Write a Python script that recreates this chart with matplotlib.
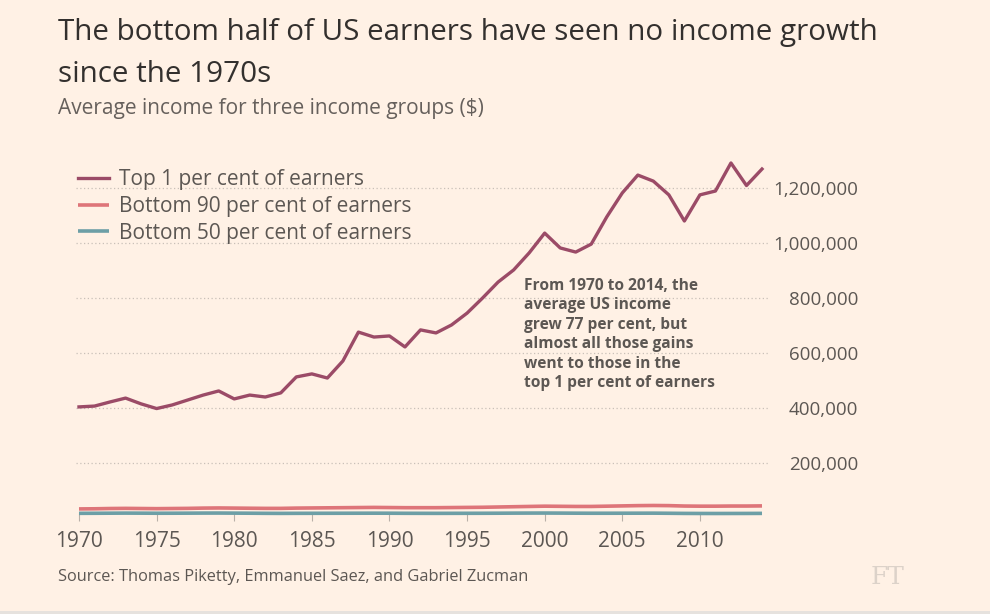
import matplotlib.pyplot as plt
from matplotlib.patches import Rectangle

years = list(range(1970, 2015))

top1 = [404000, 407000, 422000, 436000, 415000, 398000, 411000, 429000, 447000,
        462000, 433000, 447000, 440000, 455000, 513000, 524000, 509000, 571000,
        676000, 658000, 662000, 622000, 684000, 673000, 702000, 745000, 800000,
        858000, 902000, 964000, 1036000, 982000, 967000, 996000, 1095000,
        1182000, 1247000, 1225000, 1175000, 1080000, 1175000, 1189000, 1291000,
        1209000, 1269000]

bottom90 = [33000, 33500, 34500, 35000, 34500, 34000, 34500, 35000, 36000, 36500,
            36000, 35500, 35000, 35000, 36000, 36500, 37000, 37500, 38000, 38500,
            38000, 37500, 37500, 37500, 38000, 38500, 39000, 40000, 41000, 42000,
            43000, 42500, 42000, 42000, 43000, 44000, 45000, 45500, 45000, 43500,
            43000, 43000, 43500, 43500, 44000]

bottom50 = [17000, 17200, 17500, 17800, 17600, 17300, 17400, 17600, 17900, 18000,
            17700, 17400, 17000, 16800, 17000, 17100, 17200, 17300, 17400, 17500,
            17400, 17100, 17000, 16900, 17000, 17100, 17200, 17400, 17700, 17900,
            18000, 17800, 17500, 17300, 17300, 17400, 17500, 17600, 17200, 16700,
            16500, 16400, 16500, 16600, 16800]

series_labels = ['Top 1 per cent of earners', 'Bottom 90 per cent of earners',
                 'Bottom 50 per cent of earners']
xtick_years = [1970, 1975, 1980, 1985, 1990, 1995, 2000, 2005, 2010]
ytick_vals = [200000, 400000, 600000, 800000, 1000000, 1200000]

bg = '#fff1e5'
c_top = '#9b4b67'
c_b90 = '#de7579'
c_b50 = '#6d9fa6'
grey = '#5c5753'

plt.rcParams['font.family'] = ['Open Sans', 'DejaVu Sans']

W, H = 990, 614
fig = plt.figure(figsize=(W / 100, H / 100), dpi=100, facecolor=bg)

# pixel geometry
pxy = (762 - 79) / 44.0
x0, x1 = 1969.8, 2014.5
left_px = 79 + (x0 - 1970) * pxy
right_px = 762 + (x1 - 2014) * pxy
y_per_px = 200000 / 55.0
y0, y1 = -3 * y_per_px, 1300000
bot_px = 518 + 3
top_px = 518 - y1 / y_per_px

ax = fig.add_axes([left_px / W, 1 - bot_px / H, (right_px - left_px) / W,
                   (bot_px - top_px) / H])
ax.set_facecolor(bg)
ax.set_xlim(x0, x1)
ax.set_ylim(y0, y1)

for v in ytick_vals:
    ax.axhline(v, color='#c9c0b8', lw=0.9, ls=(0, (1, 2)), zorder=1)

ax.plot(years, bottom50, color=c_b50, lw=2.6, label=series_labels[2], zorder=3,
        solid_capstyle='butt')
ax.plot(years, bottom90, color=c_b90, lw=2.6, label=series_labels[1], zorder=3,
        solid_capstyle='butt')
ax.plot(years, top1, color=c_top, lw=2.4, label=series_labels[0], zorder=4,
        solid_joinstyle='round')

for s in ax.spines.values():
    s.set_visible(False)

ax.set_xticks(xtick_years)
ax.set_xticklabels([str(y) for y in xtick_years])
ax.tick_params(axis='x', direction='in', length=6, width=0.8, color='#b8b0a8',
               labelsize=15, labelcolor=grey, pad=7)

ax.set_yticks(ytick_vals)
ax.set_yticklabels([f'{v:,}' for v in ytick_vals])
ax.yaxis.tick_right()
ax.tick_params(axis='y', length=0, labelsize=13.5, labelcolor=grey,
               pad=(858 - right_px) * 0.72)
for lab in ax.get_yticklabels():
    lab.set_horizontalalignment('right')

handles, labels = ax.get_legend_handles_labels()
leg = ax.legend(handles[::-1], labels[::-1], loc='upper left',
                bbox_to_anchor=((70 - left_px) / (right_px - left_px),
                                (bot_px - 161) / (bot_px - top_px)),
                frameon=False, fontsize=15, handlelength=1.45,
                handletextpad=0.5, labelspacing=0.27, borderaxespad=0,
                labelcolor=grey)

ax.text(1998.67, 874000, 'From 1970 to 2014, the\naverage US income\n'
        'grew 77 per cent, but\nalmost all those gains\nwent to those in the\n'
        'top 1 per cent of earners', fontsize=11.2, fontweight='bold', color=grey,
        va='top', ha='left', linespacing=1.29, zorder=5)

fig.text(58 / W, 1 - 40 / H,
         'The bottom half of US earners have seen no income growth',
         fontsize=21.3, color='#33302e', va='baseline', ha='left')
fig.text(58 / W, 1 - 82 / H, 'since the 1970s',
         fontsize=21.3, color='#33302e', va='baseline', ha='left')
fig.text(58 / W, 1 - 114 / H, 'Average income for three income groups ($)',
         fontsize=15, color='#66605c', va='baseline', ha='left')
fig.text(58 / W, 1 - 577 / H,
         'Source: Thomas Piketty, Emmanuel Saez, and Gabriel Zucman',
         fontsize=11.8, color=grey, va='center', ha='left')
fig.text(888 / W, 1 - 577 / H, 'FT', family='DejaVu Serif', fontsize=18,
         color='#dcd2c9', va='center', ha='center')

fig.patches.append(Rectangle((0, 0), 1, 3 / H, transform=fig.transFigure,
                             facecolor='#e6e2de', edgecolor='none'))

fig.savefig('out.png', dpi=100, facecolor=bg)
